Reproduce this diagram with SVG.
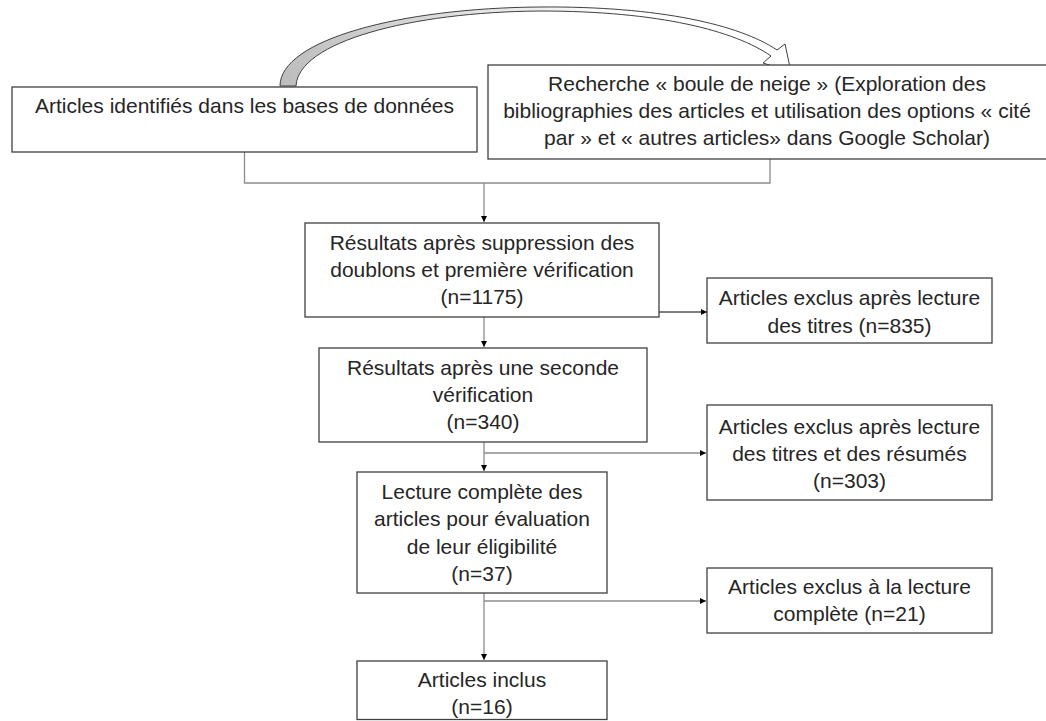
<svg xmlns="http://www.w3.org/2000/svg" width="1046" height="721" viewBox="0 0 1046 721">
  <style>
    .box { fill: #ffffff; stroke: #404040; stroke-width: 1.3; }
    .lbl { font-family: "Liberation Sans", Arial, sans-serif; font-size: 21px; fill: #262626; text-anchor: middle; }
    .link { fill: none; stroke: #8c8c8c; stroke-width: 1.3; }
    .link-dark { fill: none; stroke: #000000; stroke-width: 1; }
  </style>
  <defs>
    <marker id="tri" viewBox="0 0 6 6" refX="6" refY="3" markerWidth="6" markerHeight="6" markerUnits="userSpaceOnUse" orient="auto">
      <path d="M0,0 L6,3 L0,6 z" fill="#000000"/>
    </marker>
    <linearGradient id="bandFill" gradientUnits="userSpaceOnUse" x1="280" y1="0" x2="620" y2="0">
      <stop offset="0" stop-color="#bdbdbd"/>
      <stop offset="1" stop-color="#ffffff"/>
    </linearGradient>
  </defs>

  <rect width="1046" height="721" fill="#ffffff"/>

  <!-- curved block arrow between the two source boxes -->
  <g id="curved-arrow">
    <path d="M280 86 C280 40 400 8 540 7 C660 6 740 25 777 50 L785 44 L791 72 L763 63 L771 56 C735 31 660 11 540 11 C410 12 298 42 296 86 Z"
          fill="url(#bandFill)" stroke="#404040" stroke-width="1"/>
  </g>

  <!-- connectors -->
  <g id="connectors">
    <path class="link" d="M244.5 152 V183 H770 V159"/>
    <path class="link" d="M484 183 V222" marker-end="url(#tri)"/>
    <path class="link-dark" d="M659 312 H707" marker-end="url(#tri)"/>
    <path class="link" d="M484 317 V347" marker-end="url(#tri)"/>
    <path class="link" d="M484 442 V471" marker-end="url(#tri)"/>
    <path class="link" d="M484 453 H706" marker-end="url(#tri)"/>
    <path class="link" d="M484 593 V660" marker-end="url(#tri)"/>
    <path class="link" d="M484 601 H706" marker-end="url(#tri)"/>
  </g>

  <g id="db-articles">
    <rect class="box" x="12" y="87" width="465" height="65"/>
    <text class="lbl" x="244.5" y="113">Articles identifiés dans les bases de données</text>
  </g>

  <g id="snowball">
    <rect class="box" x="488" y="65" width="562" height="94"/>
    <text class="lbl" x="767" y="91">Recherche « boule de neige » (Exploration des</text>
    <text class="lbl" x="767" y="118">bibliographies des articles et utilisation des options « cité</text>
    <text class="lbl" x="767" y="145">par » et « autres articles» dans Google Scholar)</text>
  </g>

  <g id="dedup">
    <rect class="box" x="305" y="223" width="354" height="94"/>
    <text class="lbl" x="482" y="250">Résultats après suppression des</text>
    <text class="lbl" x="482" y="277">doublons et première vérification</text>
    <text class="lbl" x="482" y="304">(n=1175)</text>
  </g>

  <g id="excl-titles">
    <rect class="box" x="707" y="278" width="285" height="65"/>
    <text class="lbl" x="849.5" y="305">Articles exclus après lecture</text>
    <text class="lbl" x="849.5" y="333">des titres (n=835)</text>
  </g>

  <g id="second-check">
    <rect class="box" x="319" y="348" width="328" height="94"/>
    <text class="lbl" x="483" y="375">Résultats après une seconde</text>
    <text class="lbl" x="483" y="402">vérification</text>
    <text class="lbl" x="483" y="429">(n=340)</text>
  </g>

  <g id="excl-abstracts">
    <rect class="box" x="707" y="405" width="285" height="95"/>
    <text class="lbl" x="849.5" y="434">Articles exclus après lecture</text>
    <text class="lbl" x="849.5" y="461">des titres et des résumés</text>
    <text class="lbl" x="849.5" y="488">(n=303)</text>
  </g>

  <g id="full-read">
    <rect class="box" x="357" y="472" width="250" height="121"/>
    <text class="lbl" x="482" y="499">Lecture complète des</text>
    <text class="lbl" x="482" y="526">articles pour évaluation</text>
    <text class="lbl" x="482" y="554">de leur éligibilité</text>
    <text class="lbl" x="482" y="581">(n=37)</text>
  </g>

  <g id="excl-full">
    <rect class="box" x="707" y="568" width="285" height="65"/>
    <text class="lbl" x="849.5" y="594">Articles exclus à la lecture</text>
    <text class="lbl" x="849.5" y="621">complète (n=21)</text>
  </g>

  <g id="included">
    <rect class="box" x="357" y="661" width="250" height="58.5"/>
    <text class="lbl" x="482" y="687">Articles inclus</text>
    <text class="lbl" x="482" y="714">(n=16)</text>
  </g>
</svg>
